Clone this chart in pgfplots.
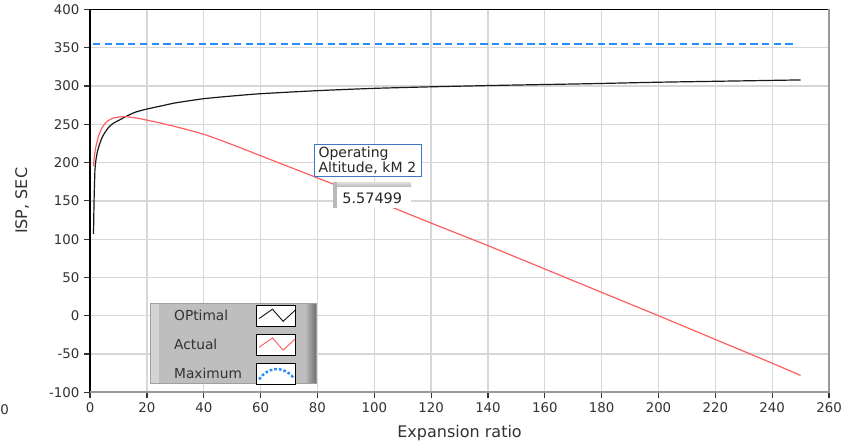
\documentclass[border=0pt]{standalone}
\usepackage{fontspec}
\setmainfont{DejaVu Sans}
\usepackage{pgfplots}
\pgfplotsset{compat=1.18}
\definecolor{actred}{RGB}{255,95,95}
\definecolor{maxblue}{RGB}{40,140,255}
\definecolor{txt}{RGB}{50,50,50}
\definecolor{gridc}{RGB}{215,215,215}
\definecolor{annblue}{RGB}{60,120,200}
\definecolor{legbg}{RGB}{190,190,190}
\definecolor{leglight}{RGB}{212,212,212}
\definecolor{legdark}{RGB}{105,105,105}
\begin{document}
\begin{tikzpicture}
\begin{axis}[
  name=ax, scale only axis, width=554pt, height=287pt,
  xmin=0, xmax=260, ymin=-100, ymax=400,
  xtick distance=20, ytick distance=50,
  grid=major, major grid style={draw=gridc, line width=1pt},
  axis line style={draw=none},
  tick align=outside, major tick length=4.5pt,
  tick style={draw=black!80, line width=0.9pt},
  xtick pos=bottom, ytick pos=left,
  ticklabel style={font=\fontsize{10}{12}\selectfont, text=txt},
  /pgf/number format/assume math mode=true,
  clip=false,
  xlabel={Expansion ratio}, ylabel={ISP, SEC},
  every axis x label/.style={at={(axis description cs:0.5,-0.107)}, anchor=center, font=\fontsize{12}{14}\selectfont, text=txt},
  every axis y label/.style={at={(axis description cs:-0.092,0.5)}, rotate=90, anchor=center, font=\fontsize{12}{14}\selectfont, text=txt},
  legend style={at={(axis cs:29.6,13.6)}, anchor=north west, draw=none, fill=none, inner sep=0pt, outer sep=0pt, row sep=5pt, column sep=10.5pt, font=\fontsize{10.3}{12}\selectfont, text=txt, nodes={inner sep=0pt}},
  legend plot pos=right, legend cell align=left,
]
% frame
\draw[black,line width=1.1pt] (rel axis cs:0,0) -- (rel axis cs:0,1) -- (rel axis cs:1,1);
\draw[gray!80,line width=1.2pt] (rel axis cs:1,1) -- (rel axis cs:1,0) -- (rel axis cs:0,0);

\addplot[black!90, line width=0.9pt, smooth, tension=0.3,
  legend image code/.code={\draw[draw=black,fill=white,solid,line width=0.8pt] (0pt,-7.9pt) rectangle (29.5pt,7.9pt);
    \draw[line width=0.7pt] (2pt,-1.6pt) -- (12pt,5.4pt) -- (20pt,-3.7pt) -- (29pt,4.6pt);}]
coordinates {(1.2,107) (1.4,150) (1.7,190) (2,202) (2.5,213) (3,220) (4,231) (5,238) (6.5,246) (8,251) (10,255) (13,261) (16,266) (20,270) (25,274) (30,278) (40,283.5) (50,287) (60,290) (80,294) (100,297) (120,299) (145,301) (175,303) (200,305) (225,306.5) (250,308)};
\addlegendentry{OPtimal}

\addplot[actred, line width=0.9pt, smooth, tension=0.3,
  legend image code/.code={\draw[draw=black,fill=white,solid,line width=0.8pt] (0pt,-7.9pt) rectangle (29.5pt,7.9pt);
    \draw[line width=0.7pt] (2pt,-1.6pt) -- (12pt,5.4pt) -- (20pt,-3.7pt) -- (29pt,4.6pt);}]
coordinates {(1.2,195) (1.5,208) (2,220) (3,235) (4,244) (5,250) (6,254) (8,258) (10,259.5) (12,260) (14,259.5) (17,257.8) (20,255.5) (25,251.5) (30,247) (35,242.2) (40,237) (45,230.5) (50,223.5) (55,216.3) (60,209) (70,194.5) (80,180) (90,165.5) (100,151) (120,121) (140,91.5) (160,61) (180,30.5) (200,0) (220,-31) (240,-62) (250,-78)};
\addlegendentry{Actual}

\addplot[maxblue, line width=2pt, dash pattern=on 5.5pt off 3.3pt,
  legend image code/.code={\draw[draw=black,fill=white,solid,line width=0.8pt] (0pt,-7.9pt) rectangle (29.5pt,7.9pt);
    \draw[line width=1.8pt, dash pattern=on 2pt off 1.5pt] (2pt,-4pt) .. controls (8pt,5pt) and (20pt,7pt) .. (28pt,-3pt);}]
coordinates {(1,355) (248,355)};
\addlegendentry{Maximum}

% legend background
\fill[legbg] (axis cs:21.1,-87.9) rectangle (axis cs:79.8,16.6);
\fill[leglight] (axis cs:21.1,-87.9) rectangle (axis cs:24.4,16.6);
\shade[left color=legbg, right color=legdark] (axis cs:75.6,-87.9) rectangle (axis cs:79.8,16.6);
\draw[gray!75, line width=0.6pt] (axis cs:21.1,-87.9) rectangle (axis cs:79.8,16.6);

% annotation
\node[draw=annblue, fill=white, line width=0.8pt, align=left, anchor=north west,
  text width=74pt, inner xsep=3pt, inner ysep=1.5pt, font=\fontsize{10.5}{11.3}\selectfont, text=black!85]
  at (axis cs:78.8,223.8) {Operating\\Altitude, kM 2};
\shade[top color=gray!25, bottom color=gray!60] (axis cs:85.5,167.6) rectangle (axis cs:113,174.2);
\fill[gray!55] (axis cs:85.5,140.2) rectangle (axis cs:87,174.2);
\fill[white] (axis cs:87,140.2) rectangle (axis cs:113,167.6);
\node[anchor=west, inner sep=0pt, font=\fontsize{10.8}{12}\selectfont, text=black!85] at (axis cs:88.7,153.9) {5.57499};

% stray label
\node[anchor=west, inner sep=0pt, font=\fontsize{10}{12}\selectfont, text=txt] at (axis cs:-31.7,-100) [yshift=-13pt] {0};
\path (axis cs:-31.7,-169.2) rectangle (axis cs:271.6,410.4);
\end{axis}
\end{tikzpicture}
\end{document}
